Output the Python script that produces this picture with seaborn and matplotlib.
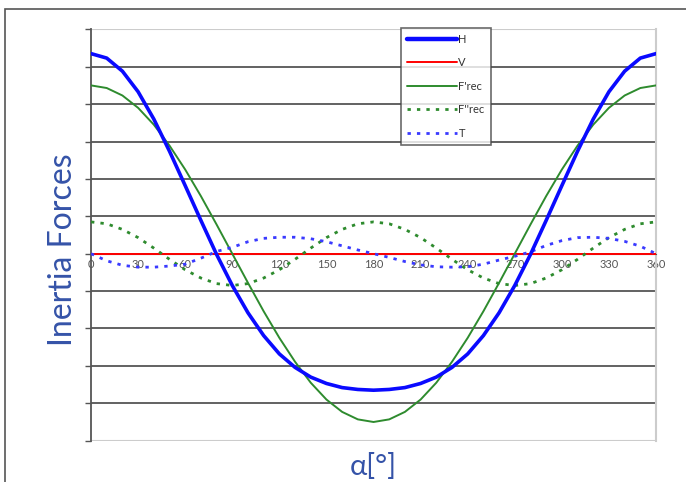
import numpy as np
import pandas as pd
import matplotlib.pyplot as plt
import seaborn as sns
from matplotlib.patches import Rectangle

# crank angle in degrees
angle = [0, 10, 20, 30, 40, 50, 60, 70, 80, 90, 100, 110, 120, 130, 140, 150, 160, 170, 180,
         190, 200, 210, 220, 230, 240, 250, 260, 270, 280, 290, 300, 310, 320, 330, 340, 350, 360]

# values
H = [5.35, 5.23, 4.88, 4.33, 3.60, 2.74, 1.82, 0.89, -0.02, -0.85, -1.58, -2.19, -2.68, -3.04, -3.30, -3.47, -3.58, -3.63, -3.65,
     -3.63, -3.58, -3.47, -3.30, -3.04, -2.68, -2.19, -1.58, -0.85, -0.02, 0.89, 1.82, 2.74, 3.60, 4.33, 4.88, 5.23, 5.35]
V = [0.0] * 37
F1_rec = [4.50, 4.43, 4.23, 3.90, 3.45, 2.89, 2.25, 1.54, 0.78, 0.00, -0.78, -1.54, -2.25, -2.89, -3.45, -3.90, -4.23, -4.43, -4.50,
          -4.43, -4.23, -3.90, -3.45, -2.89, -2.25, -1.54, -0.78, 0.00, 0.78, 1.54, 2.25, 2.89, 3.45, 3.90, 4.23, 4.43, 4.50]
F2_rec = [0.85, 0.80, 0.65, 0.43, 0.15, -0.15, -0.43, -0.65, -0.80, -0.85, -0.80, -0.65, -0.43, -0.15, 0.15, 0.43, 0.65, 0.80, 0.85,
          0.80, 0.65, 0.43, 0.15, -0.15, -0.43, -0.65, -0.80, -0.85, -0.80, -0.65, -0.43, -0.15, 0.15, 0.43, 0.65, 0.80, 0.85]
T = [0.00, -0.19, -0.31, -0.36, -0.36, -0.33, -0.28, -0.12, 0.06, 0.17, 0.32, 0.41, 0.44, 0.44, 0.40, 0.32, 0.21, 0.10, 0.00,
     -0.10, -0.21, -0.30, -0.35, -0.36, -0.35, -0.28, -0.17, -0.07, 0.05, 0.22, 0.35, 0.43, 0.44, 0.41, 0.33, 0.20, 0.00]

x_ticks = [0, 30, 60, 90, 120, 150, 180, 210, 240, 270, 300, 330, 360]

sns.set_style("white")
plt.rcParams['font.family'] = ['Lato', 'DejaVu Sans']

fig = plt.figure(figsize=(6.86, 4.82), dpi=100)
ax = fig.add_axes([0.1327, 0.0857, 0.8236, 0.8535])

# horizontal grid
for yv in range(-4, 6):
    ax.axhline(yv, color='#555555', lw=1.3, zorder=1)
ax.axhline(6, color='#cccccc', lw=1.5, zorder=1)
ax.axhline(-5, color='#cccccc', lw=1.5, zorder=1)

dot = (0, (1.2, 2.2))
sns.lineplot(x=angle, y=H, ax=ax, color='#0a0aff', lw=2.6, label='H', zorder=5)
sns.lineplot(x=angle, y=V, ax=ax, color='#ff0000', lw=1.4, label='V', zorder=4)
sns.lineplot(x=angle, y=F1_rec, ax=ax, color='#2e8b2e', lw=1.4, label="F'rec", zorder=4)
sns.lineplot(x=angle, y=F2_rec, ax=ax, color='#2e8b2e', lw=2.0, linestyle=dot, label="F''rec", zorder=4)
sns.lineplot(x=angle, y=T, ax=ax, color='#3a3aff', lw=2.0, linestyle=dot, label='T', zorder=4)

ax.set_xlim(0, 360)
ax.set_ylim(-5, 6)

# x axis runs through zero
ax.spines['bottom'].set_position(('data', 0))
ax.spines['bottom'].set_color('#555555')
ax.spines['left'].set_color('#555555')
ax.spines['left'].set_linewidth(1.3)
ax.spines['right'].set_color('#cccccc')
ax.spines['right'].set_linewidth(1.5)
ax.spines['top'].set_visible(False)

ax.set_xticks(x_ticks)
ax.set_xticklabels([str(t) for t in x_ticks], fontsize=8, color='#555555')
ax.tick_params(axis='x', direction='inout', length=5, width=1, color='#555555', pad=1)
ax.set_yticks(range(-5, 7))
ax.set_yticklabels([])
ax.tick_params(axis='y', direction='out', length=4, width=1, color='#555555', left=True)

ax.set_ylabel('Inertia Forces', fontsize=23, color='#3553a8', va='center')
ax.yaxis.set_label_coords(-0.049, 0.464)
ax.set_xlabel('α[°]', fontsize=21, color='#3553a8', va='center')
ax.xaxis.set_label_coords(0.5, -0.062)

leg = ax.legend(loc='upper left', bbox_to_anchor=(0.548, 1.004), fontsize=8, frameon=True,
                fancybox=False, edgecolor='#444444', handlelength=4.5, handletextpad=0.15,
                labelspacing=1.12, borderpad=0.55, borderaxespad=0)
leg.get_frame().set_linewidth(1.2)
for txt in leg.get_texts():
    txt.set_color('#333333')
leg.get_lines()[0].set_linewidth(3.2)
leg.set_zorder(10)

# outer frame of the picture
fig.add_artist(Rectangle((0.0073, -0.1), 1.2, 1.081, fill=False, edgecolor='#555555',
                         lw=1.2, transform=fig.transFigure))

plt.savefig('out.png', dpi=100)
